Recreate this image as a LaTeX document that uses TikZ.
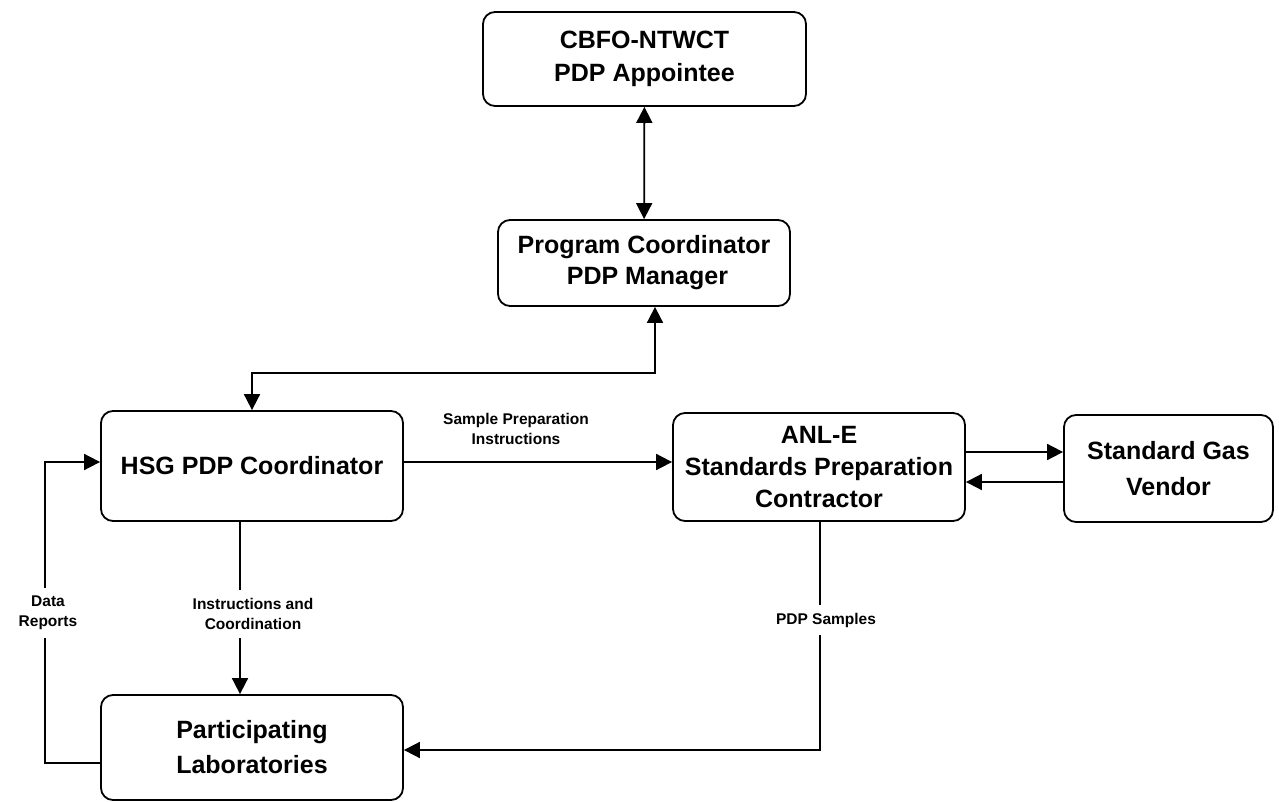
\documentclass[tikz,border=0pt]{standalone}
\usepackage{fontspec}
\setmainfont{Liberation Sans}
\usetikzlibrary{arrows.meta}
\begin{document}
\begin{tikzpicture}[x=1pt,y=-1pt,
  box/.style={draw, line width=1.8pt, rounded corners=12pt, align=center,
    font=\fontsize{25}{31}\selectfont\bfseries, inner sep=0pt},
  lead/.style={font=\fontsize{25}{#1}\selectfont\bfseries},
  lbl/.style={align=center, font=\fontsize{15.5}{20.5}\selectfont\bfseries, inner sep=0pt},
  gaplbl/.style={lbl, fill=white, inner ysep=8pt, inner xsep=2pt},
  conn/.style={line width=1.8pt, -{Triangle[length=16pt,width=16pt]}},
  bconn/.style={line width=1.8pt, {Triangle[length=16pt,width=16pt]}-{Triangle[length=16pt,width=16pt]}}]
\useasboundingbox (0,0) rectangle (1279,802);
% boxes
\node[box, lead=33, minimum width=323pt, minimum height=94pt] (cbfo) at (644.5,59) {CBFO-NTWCT\\PDP Appointee};
\node[box, minimum width=292pt, minimum height=86pt] (prog) at (644,263) {Program Coordinator\\\ PDP Manager};
\node[box, minimum width=302pt, minimum height=110pt] (hsg) at (252,466) {HSG PDP Coordinator};
\node[box, lead=32, minimum width=292pt, minimum height=108pt] (anl) at (819,467) {ANL-E\\Standards Preparation\\Contractor};
\node[box, lead=36, minimum width=209pt, minimum height=107pt] (vend) at (1168.5,468.5) {Standard Gas\\Vendor};
\node[box, lead=35, minimum width=302pt, minimum height=105pt] (labs) at (252,747.5) {Participating\\Laboratories};
% helper coordinates
\coordinate (pc) at (655,373);
\coordinate (hy) at (0,462);
\coordinate (vy1) at (0,452);
\coordinate (vy2) at (0,482);
\coordinate (ix) at (240,0);
\coordinate (sx) at (820,0);
\coordinate (ly) at (0,750);
\coordinate (dy) at (0,763);
\coordinate (dc) at (45,462);
% connectors
\draw[bconn] (cbfo) -- (prog);
\draw[bconn] (prog.south -| pc) -- (pc) -| (hsg.north);
\draw[conn] (hsg.east |- hy) -- (anl.west |- hy);
\draw[conn] (anl.east |- vy1) -- (vend.west |- vy1);
\draw[conn] (vend.west |- vy2) -- (anl.east |- vy2);
\draw[conn] (hsg.south -| ix) -- (labs.north -| ix);
\draw[conn] (anl.south -| sx) |- (labs.east |- ly);
\draw[conn] (labs.west |- dy) -| (dc) -- (hsg.west |- dc);
% labels
\node[lbl] (spi) at (516,429) {Sample Preparation\\Instructions};
\node[gaplbl] (ic) at (253,614) {Instructions and\\Coordination};
\node[gaplbl] (ps) at (826,620) {PDP Samples};
\node[gaplbl] (dr) at (48,613) {Data\\Reports};
\end{tikzpicture}
\end{document}
